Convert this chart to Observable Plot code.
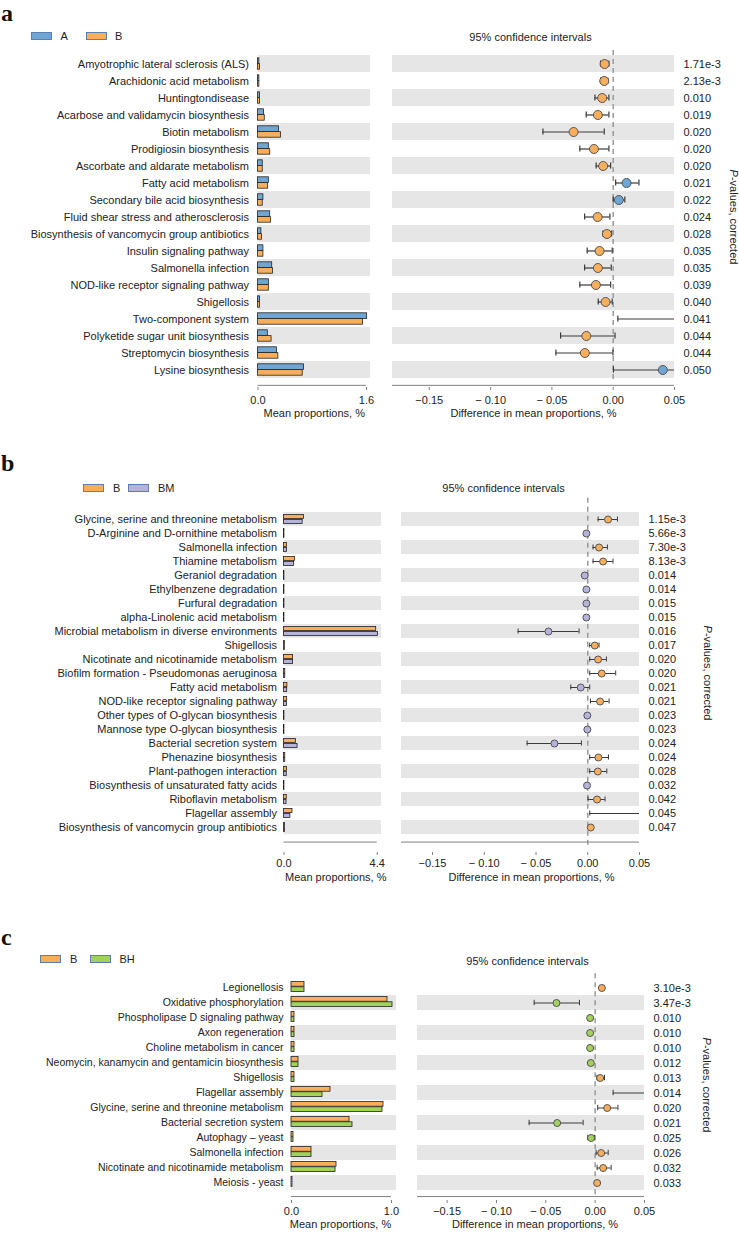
<!DOCTYPE html>
<html><head><meta charset="utf-8">
<script src="https://cdn.jsdelivr.net/npm/d3@7"></script>
<script src="https://cdn.jsdelivr.net/npm/@observablehq/plot@0.6"></script>
<style>
html,body{margin:0;padding:0;background:#fff;}
#root{position:relative;width:739px;height:1239px;overflow:hidden;font-family:"Liberation Sans",Arial,Helvetica,sans-serif;color:#222;}
#root svg{position:absolute;}
.letter{position:absolute;font-family:"Liberation Serif","Times New Roman",serif;font-weight:bold;font-size:24px;line-height:17px;color:#111;}
.legtxt{position:absolute;font-size:11px;line-height:11px;white-space:nowrap;}
.sw{position:absolute;width:21px;height:8px;border:1px solid #5d7fb0;box-sizing:border-box;}
.pv{position:absolute;font-size:11px;line-height:11px;white-space:nowrap;transform:translate(-50%,-50%) rotate(90deg);}
</style></head><body><div id="root"></div>
<script>
// ---------- Panel a: A vs B ----------
const aGroups = ["A", "B"];
const aCats = ["Amyotrophic lateral sclerosis (ALS)","Arachidonic acid metabolism","Huntingtondisease","Acarbose and validamycin biosynthesis","Biotin metabolism","Prodigiosin biosynthesis","Ascorbate and aldarate metabolism","Fatty acid metabolism","Secondary bile acid biosynthesis","Fluid shear stress and atherosclerosis","Biosynthesis of vancomycin group antibiotics","Insulin signaling pathway","Salmonella infection","NOD-like receptor signaling pathway","Shigellosis","Two-component system","Polyketide sugar unit biosynthesis","Streptomycin biosynthesis","Lysine biosynthesis"];
const aMean1 = [0.02,0.02,0.03,0.09,0.31,0.16,0.07,0.16,0.08,0.18,0.05,0.08,0.21,0.16,0.03,1.61,0.145,0.28,0.68];
const aMean2 = [0.03,0.02,0.03,0.10,0.34,0.18,0.07,0.15,0.07,0.19,0.06,0.08,0.22,0.16,0.03,1.55,0.20,0.30,0.66];
const aDiff = [-0.0070,-0.0073,-0.0090,-0.0125,-0.0323,-0.0157,-0.0082,0.0109,0.0046,-0.0127,-0.0051,-0.0111,-0.0125,-0.0141,-0.0062,0.060,-0.0219,-0.0231,0.0405];
const aLo = [-0.0103,-0.0103,-0.0149,-0.0220,-0.0573,-0.0272,-0.0139,0.0020,0.0000,-0.0233,-0.0084,-0.0212,-0.0233,-0.0272,-0.0122,0.0038,-0.0429,-0.0467,0.0002];
const aHi = [-0.0035,-0.0043,-0.0035,-0.0035,-0.0073,-0.0035,-0.0021,0.0210,0.0095,-0.0027,-0.0013,-0.0008,-0.0016,-0.0021,-0.0008,0.116,0.0015,-0.0002,0.081];
const aP = ["1.71e-3","2.13e-3","0.010","0.019","0.020","0.020","0.020","0.021","0.022","0.024","0.028","0.035","0.035","0.039","0.040","0.041","0.044","0.044","0.050"];
const aBarTicks = [0, 1.6];
const aBarTickLabels = ["0.0", "1.6"];

// ---------- Panel b: B vs BM ----------
const bGroups = ["B", "BM"];
const bCats = ["Glycine, serine and threonine metabolism","D-Arginine and D-ornithine metabolism","Salmonella infection","Thiamine metabolism","Geraniol degradation","Ethylbenzene degradation","Furfural degradation","alpha-Linolenic acid metabolism","Microbial metabolism in diverse environments","Shigellosis","Nicotinate and nicotinamide metabolism","Biofilm formation - Pseudomonas aeruginosa","Fatty acid metabolism","NOD-like receptor signaling pathway","Other types of O-glycan biosynthesis","Mannose type O-glycan biosynthesis","Bacterial secretion system","Phenazine biosynthesis","Plant-pathogen interaction","Biosynthesis of unsaturated fatty acids","Riboflavin metabolism","Flagellar assembly","Biosynthesis of vancomycin group antibiotics"];
const bMean1 = [0.94,0.02,0.14,0.52,0.02,0.02,0.02,0.02,4.35,0.05,0.43,0.06,0.16,0.15,0.02,0.02,0.56,0.06,0.14,0.02,0.13,0.40,0.05];
const bMean2 = [0.88,0.02,0.14,0.48,0.02,0.02,0.02,0.02,4.43,0.04,0.43,0.06,0.15,0.14,0.02,0.02,0.64,0.06,0.13,0.02,0.12,0.30,0.05];
const bDiff = [0.0196,-0.0013,0.0109,0.0148,-0.0029,-0.0013,-0.0013,-0.0013,-0.0380,0.0068,0.0100,0.0135,-0.0068,0.0119,-0.0004,-0.0004,-0.0322,0.0103,0.0097,-0.0007,0.0090,0.100,0.0029];
const bLo = [0.0100,-0.0018,0.0051,0.0051,-0.0034,-0.0017,-0.0017,-0.0017,-0.0673,0.0019,0.0019,0.0019,-0.0164,0.0026,-0.0008,-0.0008,-0.0586,0.0019,0.0019,-0.0011,0.0003,0.0019,0.0015];
const bHi = [0.0287,-0.0008,0.0190,0.0244,-0.0024,-0.0009,-0.0009,-0.0009,-0.0084,0.0109,0.0180,0.0270,0.0019,0.0206,0.0000,0.0000,-0.0061,0.0200,0.0184,-0.0003,0.0167,0.200,0.0043];
const bP = ["1.15e-3","5.66e-3","7.30e-3","8.13e-3","0.014","0.014","0.015","0.015","0.016","0.017","0.020","0.020","0.021","0.021","0.023","0.023","0.024","0.024","0.028","0.032","0.042","0.045","0.047"];
const bBarTicks = [0, 4.4];
const bBarTickLabels = ["0.0", "4.4"];

// ---------- Panel c: B vs BH ----------
const cGroups = ["B", "BH"];
const cCats = ["Legionellosis","Oxidative phosphorylation","Phospholipase D signaling pathway","Axon regeneration","Choline metabolism in cancer","Neomycin, kanamycin and gentamicin biosynthesis","Shigellosis","Flagellar assembly","Glycine, serine and threonine metabolism","Bacterial secretion system","Autophagy – yeast","Salmonella infection","Nicotinate and nicotinamide metabolism","Meiosis - yeast"];
const cMean1 = [0.13,0.96,0.03,0.03,0.03,0.07,0.03,0.39,0.92,0.58,0.02,0.20,0.45,0.01];
const cMean2 = [0.13,1.01,0.03,0.03,0.03,0.07,0.03,0.31,0.91,0.61,0.02,0.20,0.44,0.01];
const cDiff = [0.0068,-0.0392,-0.0051,-0.0051,-0.0051,-0.0044,0.0051,0.080,0.0122,-0.0385,-0.0041,0.0061,0.0081,0.0020];
const cLo = [0.0050,-0.0618,-0.0058,-0.0058,-0.0058,-0.0051,0.0018,0.0182,0.0026,-0.0669,-0.0075,0.0010,0.0020,0.0012];
const cHi = [0.0086,-0.0159,-0.0044,-0.0044,-0.0044,-0.0037,0.0095,0.140,0.0231,-0.0122,-0.0007,0.0132,0.0162,0.0028];
const cP = ["3.10e-3","3.47e-3","0.010","0.010","0.010","0.012","0.013","0.014","0.020","0.021","0.025","0.026","0.032","0.033"];
const cBarTicks = [0, 1.0];
const cBarTickLabels = ["0.0", "1.0"];

// shared difference axis
const diffDomain = [-0.18, 0.05];
const diffTicks = [-0.15, -0.10, -0.05, 0, 0.05];
const diffTickLabels = ["\u22120.15", "\u2212 0.10", "\u2212 0.05", "0.00", "0.05"];

// colours
const BLUE = "#6fa6d4", ORANGE = "#f9ae5b", LAV = "#b5b3dc", GREEN = "#a1d25c", GRAY = "#e6e6e6";
const FONT = '"Liberation Sans", Arial, Helvetica, sans-serif';

const root = document.getElementById("root");

const panels = [
  {letter: "a", letterTop: 5, top: 0, H: 425,
   groups: aGroups, cats: aCats, m1: aMean1, m2: aMean2, diff: aDiff, lo: aLo, hi: aHi, p: aP,
   c1: BLUE, c2: ORANGE, barTicks: aBarTicks, barTickLabels: aBarTickLabels, barMax: 1.66,
   bandTop: 53.1, pitch: 17.22,
   barW: 380, barML: 257.5, barFR: 370,
   dotLeft: 380, dotW: 359, dotFL: 392, dotFR: 674,
   axisY: 387, tickPad: 6, titleDy: 29.5, dashTop: 50,
   titleY: 33, titleDx: -3, diffDx: 0, meanDx: 0,
   labelFs: 11, labelPad: 9, bh: 5.8, barOff: 0, capInset: 5.4, r: 4.5, ebw: 1.2,
   pLabelX: 733,
   leg: {y: 36.3, sw: [31, 85.7], tx: [60.5, 115]}},
  {letter: "b", letterTop: 455.1, top: 440, H: 450,
   groups: bGroups, cats: bCats, m1: bMean1, m2: bMean2, diff: bDiff, lo: bLo, hi: bHi, p: bP,
   c1: ORANGE, c2: LAV, barTicks: bBarTicks, barTickLabels: bBarTickLabels, barMax: 4.6,
   bandTop: 501.5, pitch: 14.93,
   barW: 395, barML: 283.5, barFR: 381,
   dotLeft: 395, dotW: 344, dotFL: 401, dotFR: 639,
   axisY: 852, tickPad: 4, titleDy: 28, dashTop: 497.7,
   titleY: 484, titleDx: -17, diffDx: 11, meanDx: 3,
   labelFs: 11, labelPad: 7, bh: 5, barOff: 0, capInset: 4.5, r: 3.5, ebw: 1,
   pLabelX: 707,
   leg: {y: 488, sw: [83, 128.3], tx: [113, 158]}},
  {letter: "c", letterTop: 929.4, top: 905, H: 334,
   groups: cGroups, cats: cCats, m1: cMean1, m2: cMean2, diff: cDiff, lo: cLo, hi: cHi, p: cP,
   c1: ORANGE, c2: GREEN, barTicks: cBarTicks, barTickLabels: cBarTickLabels, barMax: 1.05,
   bandTop: 976.5, pitch: 15.55,
   barW: 405, barML: 291, barFR: 396,
   dotLeft: 405, dotW: 334, dotFL: 417, dotFR: 644,
   axisY: 1200, tickPad: 4, titleDy: 27.5, dashTop: 973.3,
   titleY: 957, titleDx: -3.5, diffDx: 4, meanDx: -3.5,
   labelFs: 10.5, labelPad: 8, bh: 5.2, barOff: -1, capInset: 4.8, r: 3.5, ebw: 1,
   pLabelX: 706,
   leg: {y: 959, sw: [40, 90], tx: [70, 119.5]}}
];

function el(cls, left, top, html) {
  const d = document.createElement("div");
  d.className = cls;
  d.style.left = left + "px";
  d.style.top = top + "px";
  if (html != null) d.innerHTML = html;
  root.appendChild(d);
  return d;
}

function drawPanel(P) {
  const n = P.cats.length;
  const rows = P.cats.map((cat, i) => ({cat, i, m1: P.m1[i], m2: P.m2[i], diff: P.diff[i], lo: P.lo[i], hi: P.hi[i], p: P.p[i]}));
  const shaded = rows.filter(r => (n - 1 - r.i) % 2 === 0);
  const pMap = new Map(rows.map(r => [r.cat, r.p]));
  const bt = P.bandTop - P.top;
  const yr = [bt, bt + n * P.pitch];
  const ax = P.axisY - P.top;
  const lastCat = P.cats[n - 1];
  const axisDy = ax - (yr[1] - P.pitch / 2);
  const style = {fontFamily: FONT, fontSize: "11px", color: "#222", background: "transparent", overflow: "visible"};
  const it1 = (P.pitch - 2 * P.bh) / 2 + P.barOff;
  const barEnd = P.barTicks[P.barTicks.length - 1];

  const bar = Plot.plot({
    width: P.barW, height: P.H,
    marginLeft: P.barML, marginRight: P.barW - P.barFR,
    marginTop: P.dashTop - P.top, marginBottom: P.H - ax,
    x: {domain: [0, P.barMax]},
    y: {domain: P.cats, range: yr, padding: 0, label: null},
    style,
    marks: [
      Plot.barX(shaded, {y: "cat", x1: 0, x2: P.barMax, fill: GRAY}),
      Plot.barX(rows, {y: "cat", x: "m1", fill: P.c1, stroke: "#222", strokeWidth: 0.8,
        insetTop: it1, insetBottom: P.pitch - it1 - P.bh}),
      Plot.barX(rows, {y: "cat", x: "m2", fill: P.c2, stroke: "#222", strokeWidth: 0.8,
        insetTop: it1 + P.bh, insetBottom: P.pitch - it1 - 2 * P.bh}),
      Plot.axisY({tickSize: 0, tickPadding: P.labelPad, fontSize: P.labelFs, label: null}),
      Plot.ruleY([lastCat], {y: d => d, x1: 0, x2: barEnd, dy: axisDy, stroke: "#808080"}),
      Plot.axisX({ticks: P.barTicks, tickFormat: d => P.barTickLabels[P.barTicks.indexOf(d)],
        tickSize: 3, tickPadding: P.tickPad, label: null, stroke: "#808080"}),
      Plot.text(["Mean proportions, %"], {text: d => d, frameAnchor: "bottom", dy: P.titleDy, dx: P.meanDx})
    ]
  });
  bar.style.left = "0px";
  bar.style.top = P.top + "px";
  root.appendChild(bar);

  const dot = Plot.plot({
    width: P.dotW, height: P.H,
    marginLeft: P.dotFL - P.dotLeft, marginRight: P.dotLeft + P.dotW - P.dotFR,
    marginTop: P.dashTop - P.top, marginBottom: P.H - ax,
    x: {domain: diffDomain},
    y: {domain: P.cats, range: yr, padding: 0, label: null},
    style,
    marks: [
      Plot.barX(shaded, {y: "cat", x1: diffDomain[0], x2: diffDomain[1], fill: GRAY}),
      Plot.ruleX([0], {stroke: "#9a9a9a", strokeWidth: 1.5, strokeDasharray: "5,4", insetBottom: ax - yr[1]}),
      Plot.ruleY(rows, {y: "cat", x1: "lo", x2: "hi", stroke: "#3a3a3a", strokeWidth: P.ebw, clip: true}),
      Plot.tickX(rows, {y: "cat", x: "lo", stroke: "#3a3a3a", strokeWidth: P.ebw, insetTop: P.capInset, insetBottom: P.capInset, clip: true}),
      Plot.tickX(rows, {y: "cat", x: "hi", stroke: "#3a3a3a", strokeWidth: P.ebw, insetTop: P.capInset, insetBottom: P.capInset, clip: true}),
      Plot.dot(rows.filter(r => r.diff > 0), {y: "cat", x: "diff", r: P.r, fill: P.c1, stroke: "#555", strokeWidth: 1, clip: true}),
      Plot.dot(rows.filter(r => r.diff <= 0), {y: "cat", x: "diff", r: P.r, fill: P.c2, stroke: "#555", strokeWidth: 1, clip: true}),
      Plot.axisY({anchor: "right", tickSize: 0, tickPadding: 9, tickFormat: d => pMap.get(d), label: null}),
      Plot.ruleY([lastCat], {y: d => d, x1: diffDomain[0], x2: diffDomain[1], dy: axisDy, stroke: "#808080"}),
      Plot.axisX({ticks: diffTicks, tickFormat: d => diffTickLabels[diffTicks.indexOf(d)],
        tickSize: 3, tickPadding: P.tickPad, label: null, stroke: "#808080"}),
      Plot.text(["Difference in mean proportions, %"], {text: d => d, frameAnchor: "bottom", dy: P.titleDy, dx: P.diffDx}),
      Plot.text(["95% confidence intervals"], {text: d => d, frameAnchor: "top", dy: P.titleY - P.dashTop, dx: P.titleDx})
    ]
  });
  dot.style.left = P.dotLeft + "px";
  dot.style.top = P.top + "px";
  root.appendChild(dot);

  // panel letter, legend, rotated p-value label
  el("letter", 1, P.letterTop, P.letter);
  const cols = [P.c1, P.c2];
  P.groups.forEach((g, k) => {
    const s = el("sw", P.leg.sw[k], P.leg.y - 4);
    s.style.background = cols[k];
    el("legtxt", P.leg.tx[k], P.leg.y - 5.2, g);
  });
  el("pv", P.pLabelX, (P.bandTop + P.bandTop + n * P.pitch) / 2, "<i>P</i>-values, corrected");
}

panels.forEach(drawPanel);
</script></body></html>
